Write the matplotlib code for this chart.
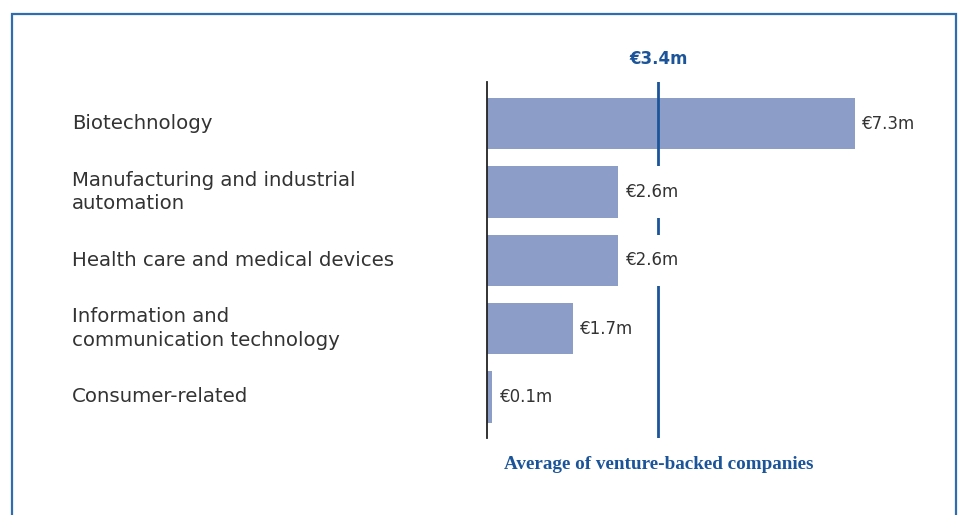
import matplotlib
matplotlib.use('Agg')
import matplotlib.pyplot as plt
from matplotlib.patches import Rectangle
from matplotlib.transforms import blended_transform_factory

categories = ['Biotechnology',
              'Manufacturing and industrial\nautomation',
              'Health care and medical devices',
              'Information and\ncommunication technology',
              'Consumer-related']
values = [7.3, 2.6, 2.6, 1.7, 0.1]
average = 3.4

bar_color = '#8C9EC8'
blue = '#1B5499'
text_color = '#333333'

W, H = 962, 515
fig = plt.figure(figsize=(W / 100, H / 100), dpi=100)

# axes placed so that x=0 sits on the vertical axis line
ax = fig.add_axes([487 / W, 1 - 438 / H, 403 / W, 356 / H])
ypos = list(range(len(categories)))
ax.barh(ypos, values, height=0.75, color=bar_color, zorder=2)
ax.set_xlim(0, 8)
ax.set_ylim(4.6, -0.607)

for s in ['top', 'right', 'bottom']:
    ax.spines[s].set_visible(False)
ax.spines['left'].set_linewidth(1.3)
ax.spines['left'].set_color('#222222')
ax.set_xticks([])
ax.set_yticks([])

# average line
ax.axvline(average, color=blue, linewidth=2, zorder=3)

# white strip behind each value label hides the average line
ax.barh(ypos, 1.5, left=[v + 0.08 for v in values], height=0.75,
        color='white', zorder=3.5)
for y, v in zip(ypos, values):
    ax.text(v + 0.15, y, f'€{v}m', va='center', ha='left', fontsize=12,
            color=text_color, zorder=4)

# category labels on the left
lab_tr = blended_transform_factory(fig.transFigure, ax.transData)
for y, c in zip(ypos, categories):
    ax.text(72 / W, y, c, transform=lab_tr, fontsize=14.2,
            color=text_color, va='center', ha='left', linespacing=1.3)

ax.text(average, 1.04, f'€{average}m', transform=ax.get_xaxis_transform(),
        ha='center', va='bottom', fontsize=12, fontweight='bold', color=blue)
ax.text(average, -0.05, 'Average of venture-backed companies',
        transform=ax.get_xaxis_transform(), ha='center', va='top',
        fontsize=13.8, fontweight='bold', color=blue, family='Liberation Serif')

# frame around the figure
fig.patches.append(Rectangle((12 / W, -0.1), (956 - 12) / W, 1.1 - 14 / H,
                             transform=fig.transFigure, fill=False,
                             edgecolor='#2F6DB0', linewidth=1.6))

fig.savefig('out.png', dpi=100)
